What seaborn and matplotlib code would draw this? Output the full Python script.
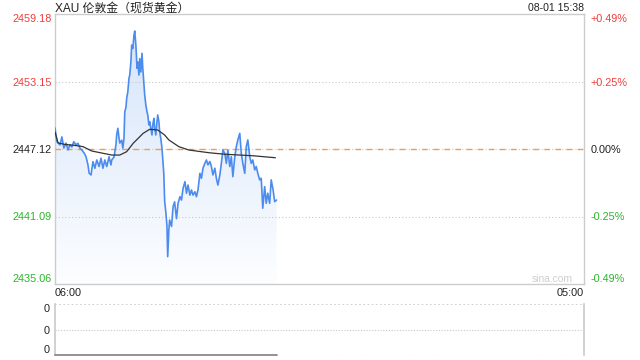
import numpy as np
import pandas as pd
import matplotlib
matplotlib.use("Agg")
import matplotlib.pyplot as plt
import seaborn as sns
from matplotlib.patches import Polygon

# ---------------- data ----------------
title = "XAU 伦敦金（现货黄金）"
stamp = "08-01 15:38"
watermark = "sina.com"
x_labels = ["06:00", "05:00"]
session_minutes = [0, 1380]          # 06:00 .. 05:00 next day

minutes = [0, 5, 13, 18, 23, 29, 34, 39, 44, 49, 55, 60, 65, 70, 76, 81, 86, 89, 94, 99,
           104, 109, 115, 120, 125, 130, 135, 141, 146, 148, 154, 159, 161, 164, 167, 169,
           174, 177, 180, 182, 185, 187, 190, 193, 195, 198, 200, 203, 206, 208, 211, 214,
           216, 219, 221, 224, 227, 229, 232, 234, 237, 240, 242, 245, 247, 250, 253, 255,
           258, 260, 263, 266, 268, 271, 273, 276, 279, 281, 284, 286, 289, 292, 294, 297,
           299, 304, 308, 312, 317, 321, 326, 330, 334, 339, 343, 347, 352, 356, 360, 365,
           369, 373, 378, 382, 386, 391, 395, 399, 404, 408, 412, 417, 421, 425, 430, 434,
           438, 443, 447, 451, 456, 460, 464, 469, 473, 477, 482, 486, 490, 495, 499, 503,
           508, 512, 516, 521, 525, 529, 534, 538, 542, 547, 551, 555, 560, 564, 569, 573, 578]
prices = [2449.00, 2447.77, 2447.48, 2448.20, 2447.20, 2447.65, 2447.03, 2447.50, 2447.30, 2447.77,
          2447.50, 2447.63, 2447.20, 2447.03, 2446.76, 2446.43, 2445.70, 2444.97, 2444.80, 2445.99,
          2445.40, 2446.14, 2445.55, 2446.30, 2445.40, 2446.14, 2445.55, 2446.43, 2445.70, 2446.14,
          2446.40, 2447.50, 2448.40, 2448.97, 2448.10, 2447.65, 2447.90, 2447.20, 2448.10, 2450.45,
          2450.80, 2451.65, 2452.25, 2453.44, 2453.73, 2454.92, 2456.40, 2456.10, 2457.30, 2457.66,
          2456.40, 2454.33, 2454.90, 2453.73, 2455.20, 2454.00, 2455.67, 2454.35, 2452.84, 2451.95,
          2451.05, 2450.45, 2450.16, 2449.27, 2449.56, 2448.97, 2448.37, 2449.27, 2449.86, 2448.97,
          2448.37, 2449.56, 2450.16, 2449.56, 2448.67, 2448.07, 2447.18, 2446.29, 2444.80, 2442.50,
          2441.50, 2440.30, 2437.50, 2439.90, 2440.78, 2440.20, 2441.97, 2442.40, 2440.90, 2442.27,
          2442.86, 2442.56, 2443.60, 2444.20, 2443.17, 2443.90, 2443.00, 2443.46, 2443.00, 2443.30,
          2442.86, 2443.46, 2444.95, 2444.50, 2445.40, 2445.84, 2446.14, 2445.70, 2446.00, 2445.55,
          2444.80, 2445.40, 2444.50, 2443.90, 2444.80, 2445.84, 2447.03, 2446.73, 2445.84, 2447.03,
          2445.55, 2446.43, 2444.65, 2446.43, 2447.33, 2447.93, 2448.52, 2446.73, 2445.84, 2444.95,
          2447.33, 2447.93, 2446.43, 2445.84, 2446.14, 2445.25, 2445.55, 2444.95, 2444.36, 2444.50,
          2441.83, 2443.76, 2442.27, 2443.17, 2442.27, 2444.36, 2443.46, 2442.42, 2442.56]

avg_minutes = [0, 8, 26, 52, 73, 96, 148, 169, 187, 204, 230, 247, 268, 286, 297, 323, 349,
               401, 443, 515, 575]
avg_prices = [2448.64, 2447.66, 2447.53, 2447.44, 2447.33, 2446.94, 2446.58, 2446.58, 2446.88,
              2447.63, 2448.52, 2448.88, 2448.82, 2448.37, 2447.93, 2447.33, 2447.03, 2446.79,
              2446.65, 2446.52, 2446.34]

volume_minutes = [0, 578]
volumes = [0, 0]

prev_close = 2447.12
price_ticks = [2435.06, 2441.09, 2447.12, 2453.15, 2459.18]
price_labels = ["2435.06", "2441.09", "2447.12", "2453.15", "2459.18"]
pct_labels = ["-0.49%", "-0.25%", "0.00%", "+0.25%", "+0.49%"]
vol_ticks = [0, 0.5, 1]
vol_labels = ["0", "0", "0"]

RED = "#f03c3c"
GREEN = "#2bb52b"
BLACK = "#222222"
tick_colors = [GREEN, GREEN, BLACK, RED, RED]

# ---------------- style ----------------
sns.set_theme(style="white")
plt.rcParams["font.family"] = ["Liberation Sans", "Noto Sans CJK SC", "DejaVu Sans"]

W, H = 640, 360
fig = plt.figure(figsize=(6.4, 3.6), dpi=100)
fig.patch.set_facecolor("white")

def px_axes(l, t, r, b):
    return fig.add_axes([l / W, 1 - b / H, (r - l) / W, (b - t) / H])

ax = px_axes(55, 14, 584, 284)
ylo, yhi = price_ticks[0], price_ticks[-1]

df = pd.DataFrame({"minute": minutes, "price": prices})
dfa = pd.DataFrame({"minute": avg_minutes, "avg": avg_prices})

# gradient fill under price line
grad = np.linspace(0, 1, 256)[:, None, None]
top_c = np.array([0.83, 0.89, 0.98])
bot_c = np.array([0.99, 0.995, 1.0])
img = top_c * (1 - grad) + bot_c * grad
im = ax.imshow(img, extent=[session_minutes[0], session_minutes[1], ylo, yhi],
               aspect="auto", origin="upper", zorder=1)
verts = [(minutes[0], ylo)] + list(zip(minutes, prices)) + [(minutes[-1], ylo)]
poly = Polygon(verts, closed=True, facecolor="none", edgecolor="none")
ax.add_patch(poly)
im.set_clip_path(poly)

# grid / reference lines
for v in (price_ticks[1], price_ticks[3]):
    ax.axhline(v, color="#c8c8c8", lw=0.8, ls=(0, (1, 2)), zorder=2)
ax.axhline(prev_close, color="#c8c8c8", lw=0.8, ls=(0, (1, 2)), zorder=2)
ax.axhline(prev_close, color="#f59a55", lw=1.0, ls=(0, (4, 4)), zorder=3)

sns.lineplot(data=df, x="minute", y="price", ax=ax, color="#4d8cef", lw=1.2,
             zorder=4, estimator=None, sort=False)
sns.lineplot(data=dfa, x="minute", y="avg", ax=ax, color="#333333", lw=0.9,
             zorder=5, estimator=None, sort=False)

ax.set_xlim(session_minutes)
ax.set_ylim(ylo, yhi)
ax.set_xlabel("")
ax.set_ylabel("")
for s in ax.spines.values():
    s.set_color("#cccccc")
    s.set_linewidth(1)
    s.set_visible(True)

ax.set_yticks(price_ticks)
ax.set_yticklabels(price_labels)
ax.tick_params(axis="y", length=0, pad=2.5, labelsize=7.8)
for lab, c in zip(ax.get_yticklabels(), tick_colors):
    lab.set_color(c)
ax.get_yticklabels()[0].set_va("bottom")
ax.get_yticklabels()[-1].set_va("top")

ax.set_xticks(session_minutes)
ax.set_xticklabels(x_labels)
ax.tick_params(axis="x", length=0, pad=3, labelsize=7.8, labelcolor=BLACK)
ax.get_xticklabels()[0].set_ha("left")
ax.get_xticklabels()[1].set_ha("right")

ax2 = ax.twinx()
ax2.set_ylim(ylo, yhi)
ax2.set_yticks(price_ticks)
ax2.set_yticklabels(pct_labels)
ax2.tick_params(axis="y", length=0, pad=4.5, labelsize=7.8)
for lab, c in zip(ax2.get_yticklabels(), tick_colors):
    lab.set_color(c)
ax2.get_yticklabels()[0].set_va("bottom")
ax2.get_yticklabels()[-1].set_va("top")
for s in ax2.spines.values():
    s.set_visible(False)
ax2.grid(False)

# texts
fig.text(55 / W, 1 - 8.5 / H, title, ha="left", va="center", fontsize=8.6, color=BLACK)
fig.text(584 / W, 1 - 8 / H, stamp, ha="right", va="center", fontsize=7.6, color=BLACK)
fig.text(573 / W, 1 - 279.5 / H, watermark, ha="right", va="center", fontsize=7.4, color="#cfcfcf")

# ---------------- volume panel ----------------
axv = px_axes(55, 304, 584, 355)
dfv = pd.DataFrame({"minute": volume_minutes, "vol": volumes})
axv.axhline(vol_ticks[1], color="#c8c8c8", lw=0.8, ls=(0, (1, 1.5)), zorder=1)
axv.axhline(vol_ticks[0], color="#c8c8c8", lw=0.8, ls=(0, (1, 1.5)), zorder=1)
axv.axhline(vol_ticks[2], color="#c8c8c8", lw=1.2, ls=(0, (1, 1.5)), zorder=1)
sns.lineplot(data=dfv, x="minute", y="vol", ax=axv, color="#8a8a8a", lw=1.3,
             estimator=None, zorder=3, clip_on=False)
axv.set_xlim(session_minutes)
axv.set_ylim(vol_ticks[0], vol_ticks[-1])
axv.set_xlabel("")
axv.set_ylabel("")
axv.set_xticks([])
axv.set_yticks(vol_ticks)
axv.set_yticklabels(vol_labels)
axv.tick_params(axis="y", length=0, pad=4, labelsize=7.8, labelcolor=BLACK)
axv.get_yticklabels()[0].set_va("bottom")
axv.get_yticklabels()[-1].set_va("top")
axv.spines["left"].set_color("#cccccc")
axv.spines["right"].set_color("#cccccc")
axv.spines["top"].set_visible(False)
axv.spines["bottom"].set_visible(False)

fig.savefig("out.png", dpi=100, facecolor="white")
